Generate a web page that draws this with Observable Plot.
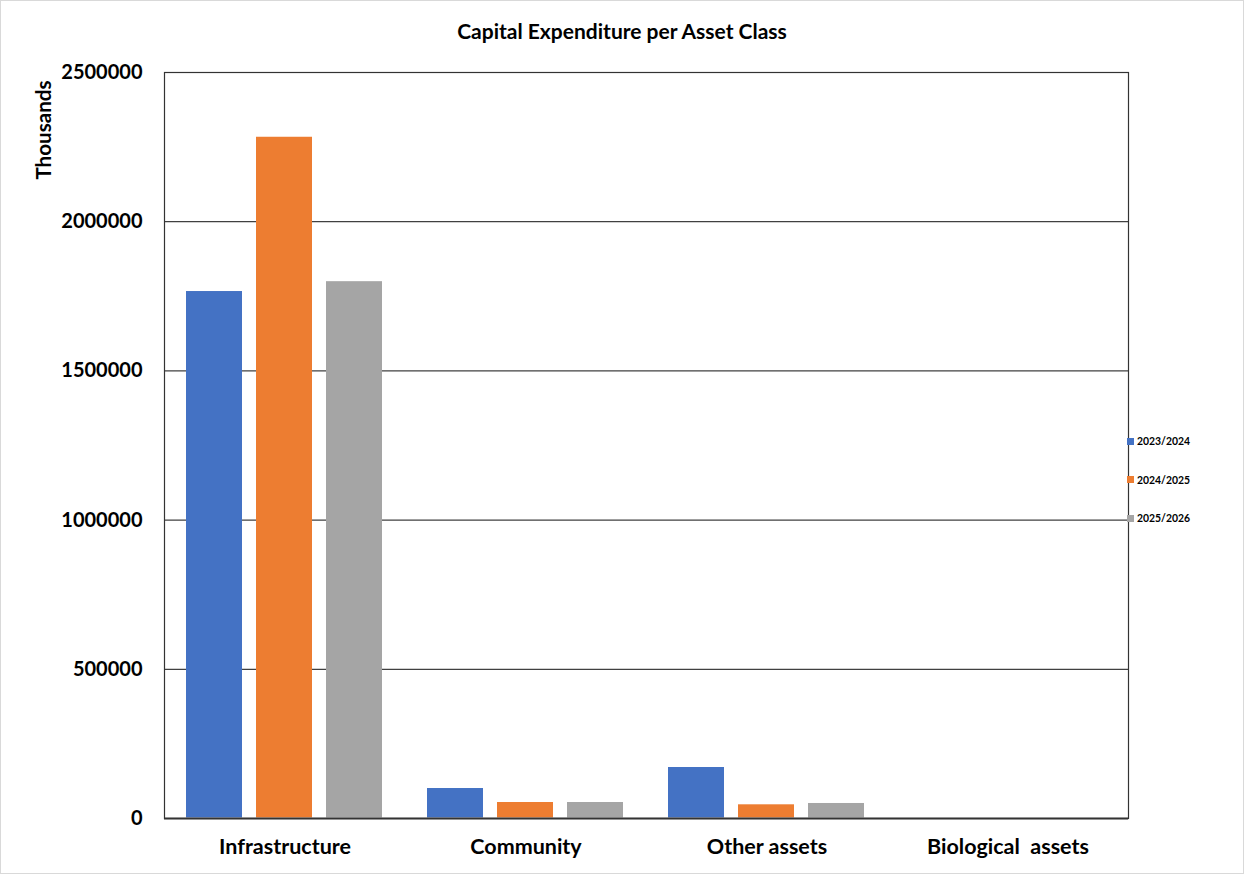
<!DOCTYPE html>
<html>
<head>
<meta charset="utf-8">
<script src="https://cdn.jsdelivr.net/npm/d3@7"></script>
<script src="https://cdn.jsdelivr.net/npm/@observablehq/plot@0.6"></script>
<style>
  body { margin: 0; background: #fff; }
  #chart { position: relative; width: 1244px; height: 874px; font-family: Lato, "Liberation Sans", sans-serif; }
  #chart svg { position: absolute; left: 0; top: 0; }
  #edge { position: absolute; inset: 0; border: 1px solid #d9d9d9; pointer-events: none; }
  #title { position: absolute; left: 0; top: 18px; width: 100%; text-align: center; font-weight: 700; font-size: 21px; line-height: 26px; color: #000; }
  #ylabel { position: absolute; left: 43px; top: 130px; transform: translate(-50%, -50%) rotate(-90deg); font-weight: 700; font-size: 20.6px; white-space: nowrap; }
  #legend { position: absolute; left: 1127px; top: 434px; font-weight: 700; font-size: 10.4px; }
  #legend .item { display: flex; align-items: center; height: 14px; margin-bottom: 24.5px; }
  #legend .swatch { width: 7px; height: 7px; margin-right: 3px; }
</style>
</head>
<body>
<div id="chart">
  <div id="title">Capital Expenditure per Asset Class</div>
  <div id="ylabel">Thousands</div>
  <div id="legend"></div>
  <div id="edge"></div>
</div>
<script>
// Asset classes and financial years
const assetClasses = ["Infrastructure", "Community", "Other assets", "Biological\u00a0 assets"];
const years = ["2023/2024", "2024/2025", "2025/2026"];

// Capital expenditure (thousands) per year, one list per asset class
const infrastructure = [1766000, 2283000, 1799000];
const community = [100500, 53600, 53600];
const otherAssets = [170900, 45900, 50300];
const biologicalAssets = [0, 0, 0];

const yTicks = [0, 500000, 1000000, 1500000, 2000000, 2500000];
const colors = ["#4472C4", "#ED7D31", "#A5A5A5"];

const series = [infrastructure, community, otherAssets, biologicalAssets];
const data = assetClasses.flatMap((cls, i) =>
  years.map((yr, j) => ({ cls, year: yr, value: series[i][j] }))
);

const chart = Plot.plot({
  width: 1244,
  height: 874,
  marginTop: 72,
  marginBottom: 56,
  marginLeft: 164,
  marginRight: 116,
  style: { fontFamily: "Lato, 'Liberation Sans', sans-serif", fontSize: "20px", fontWeight: 700, color: "#000", background: "transparent" },
  fx: { domain: assetClasses, padding: 0, label: null, axis: null },
  x: { domain: years, padding: 0.197, paddingOuter: 0.296, axis: null },
  y: { domain: [0, 2500000], ticks: yTicks, tickFormat: d => String(d), tickSize: 0, tickPadding: 22, label: null },
  color: { domain: years, range: colors },
  marks: [
    Plot.gridY(yTicks, { stroke: "#404040", strokeOpacity: 1, strokeWidth: 1.2 }),
    Plot.barY(data, { fx: "cls", x: "year", y: "value", fill: "year" }),
    Plot.ruleY([0], { stroke: "#7f7f7f", strokeWidth: 2.5 }),
    Plot.frame({ facet: "super", stroke: "#333", strokeWidth: 1.2 }),
    Plot.axisFx({ anchor: "bottom", tickSize: 0, tickPadding: 20, fontSize: 21.5, label: null })
  ]
});
document.getElementById("chart").insertBefore(chart, document.getElementById("title"));

// Legend entries
const legend = d3.select("#legend");
years.forEach((yr, i) => {
  const item = legend.append("div").attr("class", "item");
  item.append("div").attr("class", "swatch").style("background", colors[i]);
  item.append("span").text(yr);
});
</script>
</body>
</html>
